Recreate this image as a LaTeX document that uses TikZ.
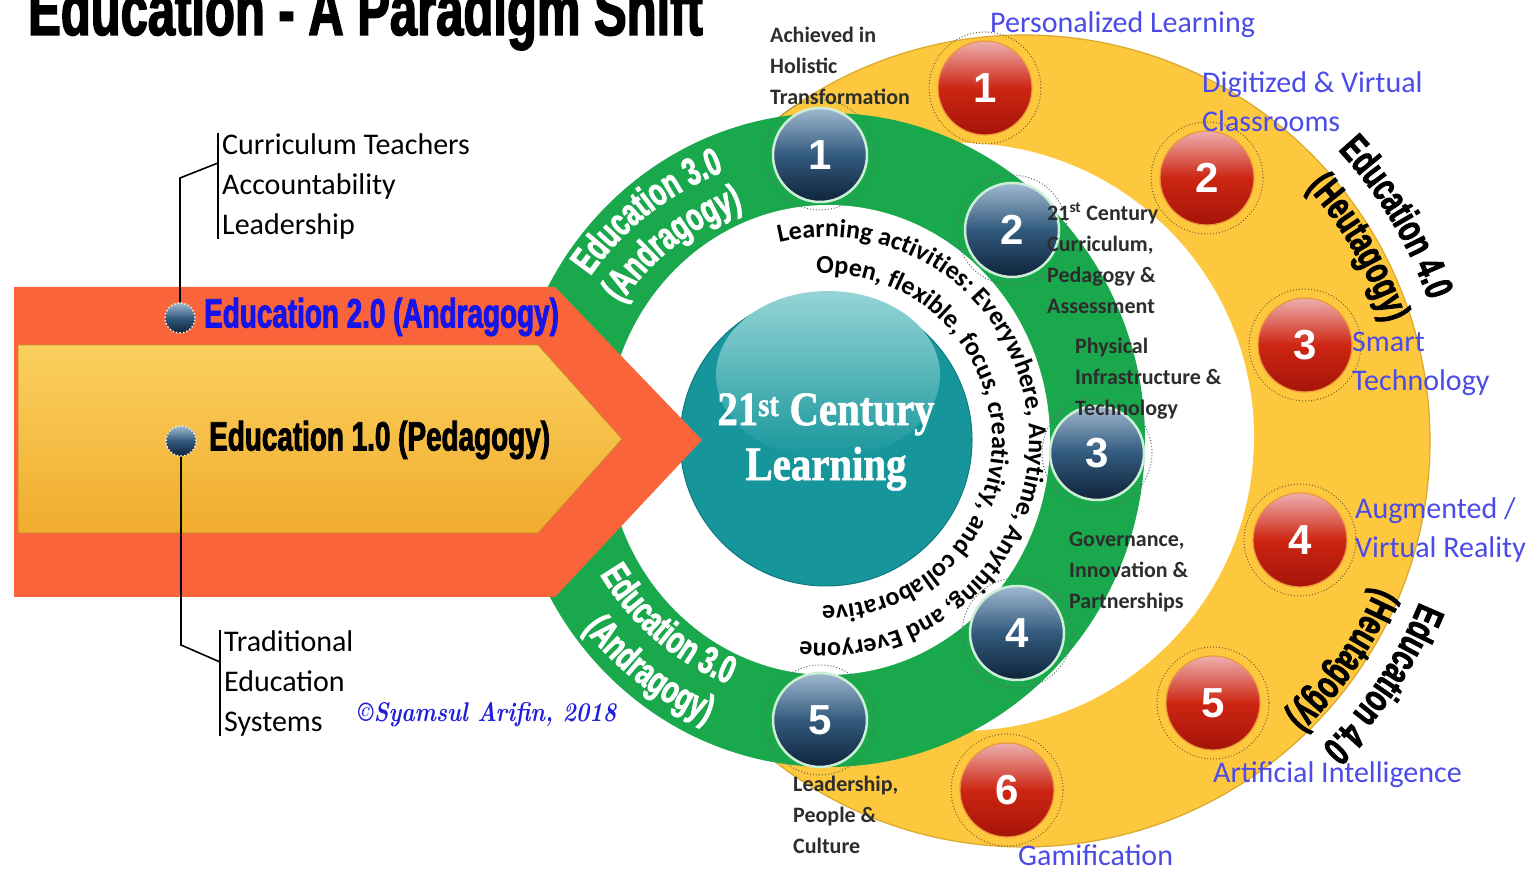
\documentclass[tikz,border=0pt]{standalone}
\usepackage{fontspec}
\usetikzlibrary{decorations.text,calc}
\newfontfamily\calibri{Carlito}
\newfontfamily\heavy[FakeStretch=0.68,BoldFeatures={FakeBold=2}]{Liberation Sans}
\newfontfamily\serifb[FakeStretch=0.85,BoldFeatures={FakeBold=1.2}]{Liberation Serif}
\newfontfamily\numfont{Liberation Sans}
\definecolor{ringyellow}{RGB}{253,200,62}
\definecolor{ringyedge}{RGB}{218,168,42}
\definecolor{ringgreen}{RGB}{26,168,76}
\definecolor{tealc}{RGB}{22,150,155}
\definecolor{tealhi}{RGB}{150,212,214}
\definecolor{tealedge}{RGB}{14,120,126}
\definecolor{arroworange}{RGB}{250,100,58}
\definecolor{arrowytop}{RGB}{251,208,95}
\definecolor{arrowybot}{RGB}{240,172,45}
\definecolor{edublue}{RGB}{20,20,235}
\definecolor{lblblue}{RGB}{75,75,232}
\definecolor{lbldark}{RGB}{45,45,45}
\definecolor{cpblue}{RGB}{30,30,215}
\definecolor{navytop}{RGB}{160,185,208}
\definecolor{navymid}{RGB}{50,90,125}
\definecolor{navybot}{RGB}{15,35,58}
\definecolor{navyrim}{RGB}{205,238,215}
\definecolor{redtop}{RGB}{238,175,175}
\definecolor{redmid}{RGB}{205,38,18}
\definecolor{redbot}{RGB}{165,20,8}
\definecolor{redrim}{RGB}{235,150,60}
\definecolor{halored}{RGB}{120,100,50}
\definecolor{haloblue}{RGB}{90,110,100}
\begin{document}
\begin{tikzpicture}[x=1pt,y=1pt,
  bsph/.style={circle,minimum size=94pt,inner sep=0pt,draw=navyrim,line width=2.5pt,
    top color=navytop,bottom color=navybot,middle color=navymid,text=white,
    font=\numfont\bfseries\fontsize{42}{42}\selectfont},
  rsph/.style={circle,minimum size=94pt,inner sep=0pt,draw=redrim,line width=1.2pt,
    top color=redtop,bottom color=redbot,middle color=redmid,text=white,
    font=\numfont\bfseries\fontsize{42}{42}\selectfont},
  bdot/.style={circle,minimum size=30pt,inner sep=0pt,draw=white!85!gray,dotted,line width=1.5pt,
    top color=navytop,bottom color=navybot,middle color=navymid},
  haloR/.style={draw=halored,dotted,line width=1pt},
  haloB/.style={draw=haloblue,dotted,line width=1pt},
  lblsmall/.style={font=\calibri\bfseries\fontsize{22}{31}\selectfont,text=lbldark,align=left,inner sep=0pt,anchor=west},
  lblbig/.style={font=\calibri\fontsize{30}{39}\selectfont,text=lblblue,align=left,inner sep=0pt,anchor=west},
  brtext/.style={font=\calibri\fontsize{30}{40}\selectfont,text=black,align=left,inner sep=0pt,anchor=north west},
  conn/.style={draw=black,line width=1.6pt},
  edutext/.style={font=\heavy\bfseries\fontsize{41}{41}\selectfont,inner sep=0pt,anchor=west}
]
\useasboundingbox (0,0) rectangle (1539,890);
\fill[white] (0,0) rectangle (1539,890);

% title
\node[anchor=base west,inner sep=0pt,font=\heavy\bfseries\fontsize{72}{72}\selectfont] (title) at (28,855) {Education - A Paradigm Shift};

% yellow ring (Education 4.0)
\fill[ringyellow,draw=ringyedge,line width=1.2pt] (1024,449) circle[radius=406pt];
\fill[white] (960,453) circle[radius=294pt];

% green ring (Education 3.0)
\fill[ringgreen] (828,450) ellipse[x radius=317pt,y radius=327pt];
\fill[white] (828,450) ellipse[x radius=222pt,y radius=235pt];

% core
\node[circle,minimum size=292pt,inner sep=0pt,fill=tealc,draw=tealedge,line width=1pt] (core) at (826,450) {};
\shade[top color=tealhi,bottom color=tealc] (828,515) ellipse[x radius=112pt,y radius=84pt];
\node[font=\serifb\bfseries\fontsize{48}{55}\selectfont,text=white,align=center,inner sep=0pt] (ctext) at (826,448) {21\textsuperscript{st} Century\\Learning};

% arrows
\fill[arroworange] (14,603) -- (555,603) -- (702,450) -- (555,293) -- (14,293) -- cycle;
\shade[top color=arrowytop,bottom color=arrowybot,draw=arrowybot!80!black,line width=0.6pt] (18,545) -- (538,545) -- (622,451) -- (538,357) -- (18,357) -- cycle;

% ring texts: inner white ring
\path[decorate,decoration={text along path,text align=center,
  text={|\calibri\bfseries\fontsize{26}{26}\selectfont|Learning activities: Everywhere, Anytime, Anything, and Everyone}}]
  ([shift={(160:203pt)}]826,450) arc[start angle=160,end angle=-154,radius=203pt];
\path[decorate,decoration={text along path,text align=center,
  text={|\calibri\bfseries\fontsize{26}{26}\selectfont|Open, flexible, focus, creativity, and collaborative}}]
  ([shift={(160:166pt)}]826,450) arc[start angle=160,end angle=-158,radius=166pt];

% green ring texts
\path[decorate,decoration={text along path,text align=center,
  text={|\heavy\bfseries\fontsize{39}{39}\selectfont\color{white}|Education 3.0}}]
  ([shift={(175:287pt)}]826,450) arc[start angle=175,end angle=81,radius=287pt];
\path[decorate,decoration={text along path,text align=center,
  text={|\heavy\bfseries\fontsize{39}{39}\selectfont\color{white}|(Andragogy)}}]
  ([shift={(175:246pt)}]826,450) arc[start angle=175,end angle=81,radius=246pt];
\path[decorate,decoration={text along path,text align=center,
  text={|\heavy\bfseries\fontsize{39}{39}\selectfont\color{white}|Education 3.0}}]
  ([shift={(185:263pt)}]826,450) arc[start angle=185,end angle=274,radius=263pt];
\path[decorate,decoration={text along path,text align=center,
  text={|\heavy\bfseries\fontsize{39}{39}\selectfont\color{white}|(Andragogy)}}]
  ([shift={(188:307pt)}]826,450) arc[start angle=188,end angle=277,radius=307pt];

% yellow ring texts
\path[decorate,decoration={text along path,text align=center,
  text={|\heavy\bfseries\fontsize{40}{40}\selectfont|Education 4.0}}]
  ([shift={(62:428pt)}]1024,449) arc[start angle=62,end angle=0,radius=428pt];
\path[decorate,decoration={text along path,text align=center,
  text={|\heavy\bfseries\fontsize{40}{40}\selectfont|(Heutagogy)}}]
  ([shift={(61:380pt)}]1024,449) arc[start angle=61,end angle=-1,radius=380pt];
\path[decorate,decoration={text along path,text align=center,
  text={|\heavy\bfseries\fontsize{40}{40}\selectfont|Education 4.0}}]
  ([shift={(-3:427pt)}]1024,449) arc[start angle=-3,end angle=-65,radius=427pt];
\path[decorate,decoration={text along path,text align=center,
  text={|\heavy\bfseries\fontsize{40}{40}\selectfont|(Heutagogy)}}]
  ([shift={(-3:381pt)}]1024,449) arc[start angle=-3,end angle=-66,radius=381pt];

% blue spheres (green ring)
\node[bsph] (n1) at (820,735) {1};
\node[bsph] (n2) at (1012,660) {2};
\node[bsph] (n3) at (1097,437) {3};
\node[bsph] (n4) at (1017,257) {4};
\node[bsph] (n5) at (820,170) {5};
\foreach \n in {n1,n2,n3,n4,n5} \draw[haloB] (\n.center) circle[radius=55pt];

% red spheres (yellow ring)
\node[rsph] (r1) at (985,802) {1};
\node[rsph] (r2) at (1207,712) {2};
\node[rsph] (r3) at (1305,545) {3};
\node[rsph] (r4) at (1300,350) {4};
\node[rsph] (r5) at (1213,187) {5};
\node[rsph] (r6) at (1007,100) {6};
\foreach \n in {r1,r2,r3,r4,r5,r6} \draw[haloR] (\n.center) circle[radius=56pt];

% labels of blue spheres
\node[lblsmall] (l1) at (770,824) {Achieved in\\Holistic\\Transformation};
\node[lblsmall] (l2) at (1047,632) {21\textsuperscript{st} Century\\Curriculum,\\Pedagogy \&\\Assessment};
\node[lblsmall] (l3) at (1075,511) {Physical\\Infrastructure \&\\Technology};
\node[lblsmall] (l4) at (1069,318) {Governance,\\Innovation \&\\Partnerships};
\node[lblsmall] (l5) at (793,75) {Leadership,\\People \&\\Culture};

% labels of red spheres
\node[lblbig] (p1) at (990,865) {Personalized Learning};
\node[lblbig] (p2) at (1202,788) {Digitized \& Virtual\\Classrooms};
\node[lblbig] (p3) at (1352,526) {Smart\\Technology};
\node[lblbig] (p4) at (1355,360) {Augmented /\\Virtual Reality};
\node[lblbig] (p5) at (1213,115) {Artificial Intelligence};
\node[lblbig] (p6) at (1018,35) {Gamification};

% left side: education 2.0 / 1.0
\node[bdot] (b2) at (180,572) {};
\node[bdot] (b1) at (181,449) {};
\node[edutext,text=edublue] (e2) at (204,573) {Education 2.0 (Andragogy)};
\node[edutext,text=black] (e1) at (209,450) {Education 1.0 (Pedagogy)};

\node[brtext] (tA) at (222,757) {Curriculum Teachers\\Accountability\\Leadership};
\node[brtext] (tB) at (224,260) {Traditional\\Education\\Systems};
\draw[conn] ([xshift=-4pt]tA.north west) -- ([xshift=-4pt]tA.south west);
\draw[conn] ([xshift=-4pt]tB.north west) -- ([xshift=-4pt]tB.south west);
\draw[conn] (b2.north) -- (180,712) -- ($(tA.north west)+(-4,-30)$);
\draw[conn] (b1.south) -- (181,245) -- ($(tB.north west)+(-4,-32)$);

\node[anchor=base west,inner sep=0pt,text=cpblue,font=\fontsize{27}{27}\selectfont\bfseries\itshape] (cp) at (358,168) {\scalebox{0.84}[1]{©Syamsul Arifin, 2018}};
\end{tikzpicture}
\end{document}
